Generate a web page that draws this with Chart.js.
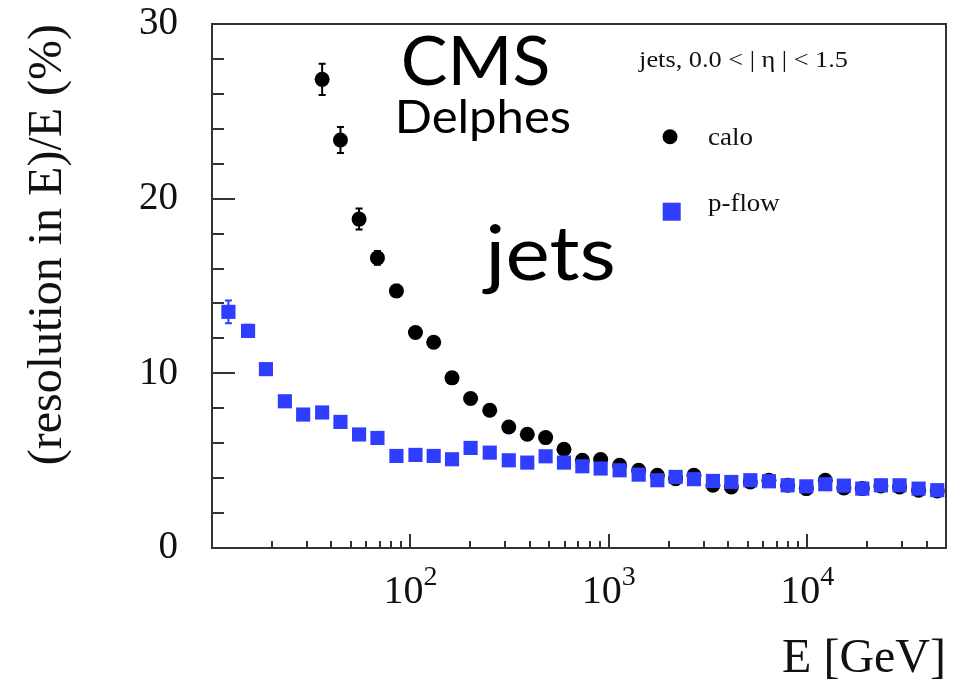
<!DOCTYPE html>
<html><head><meta charset="utf-8">
<script src="https://cdn.jsdelivr.net/npm/chart.js@4.4.0/dist/chart.umd.min.js"></script>
<style>html,body{margin:0;padding:0;background:#fff;}#wrap{width:960px;height:691px;}</style>
</head><body><div id="wrap"><canvas id="c" width="960" height="691"></canvas></div>
<script>
// ---- data ----
const energies = [12.1, 15.2, 18.7, 23.3, 28.8, 35.9, 44.4, 55.1, 68.2, 85.0, 106, 131, 162, 201, 251, 313, 388, 480, 594, 735, 909, 1133, 1413, 1755, 2170, 2684, 3345, 4141, 5162, 6407, 7959, 9886, 12320, 15290, 18930, 23490, 29170, 36370, 45180];
const caloRes = [null, null, null, null, null, 26.83, 23.36, 18.83, 16.61, 14.72, 12.34, 11.78, 9.74, 8.56, 7.89, 6.93, 6.51, 6.32, 5.65, 5.02, 5.06, 4.74, 4.45, 4.16, 3.97, 4.16, 3.59, 3.49, 3.78, 3.88, 3.59, 3.40, 3.88, 3.44, 3.40, 3.55, 3.49, 3.31, 3.27];
const caloErr = [null, null, null, null, null, 0.9, 0.75, 0.6, 0.4, 0.35, 0.3, 0.3, 0.25, 0.25, 0.2, 0.2, 0.2, 0.2, 0.15, 0.15, 0.15, 0.15, 0.12, 0.12, 0.12, 0.12, 0.1, 0.1, 0.1, 0.1, 0.1, 0.1, 0.1, 0.1, 0.1, 0.1, 0.1, 0.1, 0.1];
const pflowRes = [13.52, 12.43, 10.24, 8.40, 7.64, 7.76, 7.22, 6.50, 6.30, 5.27, 5.33, 5.27, 5.08, 5.73, 5.46, 5.02, 4.89, 5.25, 4.89, 4.68, 4.55, 4.45, 4.20, 3.88, 4.07, 3.94, 3.84, 3.78, 3.88, 3.82, 3.59, 3.53, 3.65, 3.57, 3.40, 3.59, 3.59, 3.40, 3.31];
const pflowErr = [0.65, 0.35, 0.3, 0.25, 0.2, 0.2, 0.2, 0.15, 0.15, 0.12, 0.12, 0.12, 0.1, 0.1, 0.1, 0.1, 0.1, 0.1, 0.1, 0.1, 0.1, 0.1, 0.1, 0.1, 0.1, 0.1, 0.1, 0.1, 0.1, 0.1, 0.1, 0.1, 0.1, 0.1, 0.1, 0.1, 0.1, 0.1, 0.1];
const seriesNames = ['calo', 'p-flow'];
const yTickValues = [0, 10, 20, 30];
const xTickValues = [100, 1000, 10000];
const xTickBase = ['10', '10', '10'];
const xTickExp = ['2', '3', '4'];
const headerText = 'jets, 0.0 < | \u03B7 | < 1.5';
const xTitle = 'E [GeV]';
const yTitle = '(resolution in E)/E (%)';
const bigTexts = ['CMS', 'Delphes', 'jets'];

const BLUE = '#2f3dff';
const AXIS = '#333';
const SERIF = '"Liberation Serif", "Times New Roman", serif';
const SANS = 'Lato, "Open Sans", sans-serif';

const errors = [caloErr, pflowErr];

function fitText(ctx, text, left, baseline, font, inkWidth, color) {
  ctx.save();
  ctx.font = font;
  ctx.fillStyle = color || '#000';
  ctx.textAlign = 'left';
  ctx.textBaseline = 'alphabetic';
  const m = ctx.measureText(text);
  const w = m.actualBoundingBoxLeft + m.actualBoundingBoxRight;
  const s = inkWidth / w;
  ctx.translate(left + m.actualBoundingBoxLeft * s, baseline);
  ctx.scale(s, 1);
  ctx.fillText(text, 0, 0);
  ctx.restore();
}

const rootPlugin = {
  id: 'rootStyle',
  beforeDatasetsDraw(chart) {
    const {ctx, chartArea: a, scales: {x, y}} = chart;
    ctx.save();
    ctx.strokeStyle = AXIS;
    ctx.lineWidth = 2;
    ctx.strokeRect(a.left, a.top, a.right - a.left, a.bottom - a.top);
    // y ticks (inward)
    ctx.beginPath();
    for (let v = y.min; v <= y.max; v += 2) {
      const py = Math.round(y.getPixelForValue(v));
      const len = (v % 10 === 0) ? 23 : 12;
      ctx.moveTo(a.left, py); ctx.lineTo(a.left + len, py);
    }
    // x ticks (inward, log)
    for (let d = 1; d <= 4; d++) {
      for (let m = 1; m <= 9; m++) {
        const v = m * Math.pow(10, d);
        if (v <= x.min || v >= x.max) continue;
        const px = Math.round(x.getPixelForValue(v));
        const len = m === 1 ? 14 : 7;
        ctx.moveTo(px, a.bottom); ctx.lineTo(px, a.bottom - len);
      }
    }
    ctx.stroke();
    // error bars
    chart.data.datasets.forEach((ds, di) => {
      const err = errors[di];
      ctx.strokeStyle = ds.backgroundColor;
      ctx.lineWidth = 2;
      ctx.beginPath();
      ds.data.forEach((p, i) => {
        if (p.y === null || err[i] == null) return;
        const px = x.getPixelForValue(p.x);
        const y1 = y.getPixelForValue(p.y + err[i]);
        const y2 = y.getPixelForValue(p.y - err[i]);
        ctx.moveTo(px, y1); ctx.lineTo(px, y2);
        ctx.moveTo(px - 3.5, y1); ctx.lineTo(px + 3.5, y1);
        ctx.moveTo(px - 3.5, y2); ctx.lineTo(px + 3.5, y2);
      });
      ctx.stroke();
    });
    ctx.restore();
  },
  afterDatasetsDraw(chart) {
    const {ctx, chartArea: a, scales: {x}} = chart;
    ctx.save();
    // x tick labels with superscript exponents
    ctx.fillStyle = '#111';
    ctx.textBaseline = 'alphabetic';
    ctx.textAlign = 'left';
    xTickValues.forEach((v, i) => {
      const px = x.getPixelForValue(v);
      ctx.font = '40px ' + SERIF;
      const wb = ctx.measureText(xTickBase[i]).width;
      ctx.font = '28px ' + SERIF;
      const we = ctx.measureText(xTickExp[i]).width;
      const start = px - (wb + we) / 2;
      ctx.font = '40px ' + SERIF;
      ctx.fillText(xTickBase[i], start, 603);
      ctx.font = '28px ' + SERIF;
      ctx.fillText(xTickExp[i], start + wb, 585);
    });
    ctx.restore();
    // annotations
    fitText(ctx, bigTexts[0], 404, 85, '67px ' + SANS, 144);
    fitText(ctx, bigTexts[1], 399, 133, '46px ' + SANS, 171);
    fitText(ctx, bigTexts[2], 482, 280, '75px ' + SANS, 131);
    fitText(ctx, headerText, 638, 67, '24px ' + SERIF, 210, '#111');
    // legend
    const ds = chart.data.datasets;
    ctx.save();
    ctx.fillStyle = ds[0].backgroundColor;
    ctx.beginPath(); ctx.arc(670, 136.7, 7.5, 0, Math.PI * 2); ctx.fill();
    ctx.fillStyle = ds[1].backgroundColor;
    ctx.fillRect(671.7 - 9, 211.7 - 9, 18, 18);
    ctx.restore();
    fitText(ctx, ds[0].label, 708, 145, '26px ' + SERIF, 45, '#111');
    fitText(ctx, ds[1].label, 708, 211, '26px ' + SERIF, 72, '#111');
  }
};

new Chart(document.getElementById('c'), {
  type: 'scatter',
  data: {
    datasets: [
      {
        label: seriesNames[0],
        data: energies.map((e, i) => ({x: e, y: caloRes[i]})),
        pointStyle: 'circle', pointRadius: 7.5, pointHoverRadius: 7.5,
        backgroundColor: '#000', borderWidth: 0, order: 2
      },
      {
        label: seriesNames[1],
        data: energies.map((e, i) => ({x: e, y: pflowRes[i]})),
        pointStyle: 'rect', pointRadius: 10, pointHoverRadius: 10,
        backgroundColor: BLUE, borderWidth: 0, order: 1
      }
    ]
  },
  options: {
    responsive: false,
    animation: false,
    events: [],
    layout: {padding: {left: 0, right: 14, top: 24, bottom: 0}},
    plugins: {legend: {display: false}, tooltip: {enabled: false}},
    scales: {
      x: {
        type: 'logarithmic', min: 10, max: 50000,
        grid: {display: false, drawTicks: false},
        border: {display: false},
        ticks: {display: false},
        title: {display: true, text: xTitle, align: 'end', color: '#111',
                font: {family: SERIF, size: 48}, padding: {top: 0, bottom: 3}},
        afterFit(s) { s.height = 143; }
      },
      y: {
        min: 0, max: 30,
        afterBuildTicks(s) { s.ticks = yTickValues.map(v => ({value: v})); },
        grid: {display: false, drawTicks: true, tickLength: 34},
        border: {display: false},
        ticks: {color: '#111', padding: 0, font: {family: SERIF, size: 39, lineHeight: 1}},
        title: {display: true, text: yTitle, align: 'end', color: '#111',
                font: {family: SERIF, size: 48}, padding: {top: 20, bottom: 0}},
        afterFit(s) { s.width = 212; }
      }
    }
  },
  plugins: [rootPlugin]
});
</script>
</body></html>
